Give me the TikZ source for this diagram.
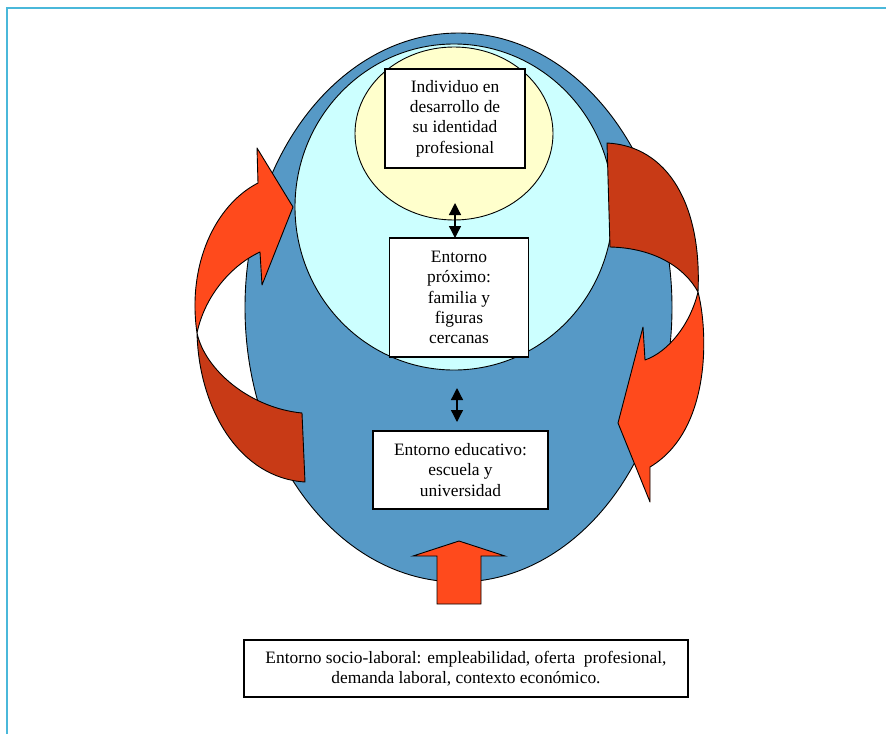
\documentclass[tikz,border=0pt]{standalone}
\usepackage{fontspec}
\setmainfont{Liberation Serif}
\usetikzlibrary{arrows.meta}
\definecolor{frameblue}{RGB}{74,184,218}
\definecolor{outerblue}{RGB}{86,153,198}
\definecolor{lightcyan}{RGB}{204,255,255}
\definecolor{lightyellow}{RGB}{255,255,204}
\definecolor{brightred}{RGB}{255,74,28}
\definecolor{darkred}{RGB}{200,58,22}
\tikzset{
  shapeline/.style={draw=black, line width=0.9pt},
  textbox/.style={draw=black, fill=white, line width=1.1pt, inner sep=0pt, align=center,
     font=\fontsize{17.4}{20.3}\selectfont},
  dblarrow/.style={line width=1.3pt, {Triangle[width=12pt,length=12pt]}-{Triangle[width=12pt,length=12pt]}},
  brightarrow/.style={shapeline, fill=brightred, line join=round},
  darkarrow/.style={shapeline, fill=darkred, line join=round},
}
\begin{document}
\begin{tikzpicture}[x=1pt,y=-1pt]
\useasboundingbox (0,0) rectangle (886,734);
% frame
\draw[frameblue, line width=2pt] (7,734) -- (7,8) -- (886,8);
% ellipses
\filldraw[shapeline, fill=outerblue] (458.5,307.5) ellipse [x radius=213.5pt, y radius=274.5pt];
\filldraw[shapeline, fill=lightcyan] (454,207) ellipse [x radius=159pt, y radius=163pt];
\filldraw[shapeline, fill=lightyellow] (454,133.5) ellipse [x radius=99pt, y radius=86.5pt];
% left curved arrow
\filldraw[darkarrow] (302,413) .. controls (250,408) and (205,370) .. (197,333)
   .. controls (199,410) and (240,478) .. (305,482) -- cycle;
\filldraw[brightarrow] (197,333) .. controls (187,265) and (215,205) .. (258,183)
   -- (257,148) -- (293,207) -- (262,285) -- (260,252)
   .. controls (232,265) and (205,295) .. (197,333) -- cycle;
% right curved arrow
\filldraw[darkarrow] (607,143) .. controls (668,146) and (702,205) .. (698,292)
   .. controls (685,268) and (655,248) .. (610,247) -- cycle;
\filldraw[brightarrow] (698,292) .. controls (708,330) and (712,430) .. (650,467)
   -- (650,502) -- (618,423) -- (643,327) -- (645,360)
   .. controls (668,352) and (690,325) .. (698,292) -- cycle;
% bottom up arrow
\filldraw[brightarrow, line join=miter] (459,541) -- (505,556) -- (481,556) -- (481,604)
   -- (437,604) -- (437,556) -- (413,556) -- cycle;
% boxes
\node[textbox, minimum width=140pt, minimum height=99pt] (ind) at (455,118.5)
  {Individuo en\\desarrollo de\\su identidad\\profesional};
\node[textbox, minimum width=139pt, minimum height=119pt] (prox) at (459,297.5)
  {Entorno\\próximo:\\familia y\\figuras\\cercanas};
\node[textbox, minimum width=175pt, minimum height=78pt] (edu) at (460.5,470)
  {Entorno educativo:\\escuela y\\universidad};
\node[textbox, minimum width=444pt, minimum height=57pt] (soc) at (466,668.5)
  {Entorno socio-laboral: empleabilidad, oferta\ \ profesional,\\demanda laboral, contexto económico.};
% double arrows
\coordinate (a1t) at (455,203);
\coordinate (a1b) at (455,238);
\coordinate (a2t) at (457,388);
\coordinate (a2b) at (457,422);
\draw[dblarrow] (a1t) -- (a1b);
\draw[dblarrow] (a2t) -- (a2b);
\end{tikzpicture}
\end{document}
